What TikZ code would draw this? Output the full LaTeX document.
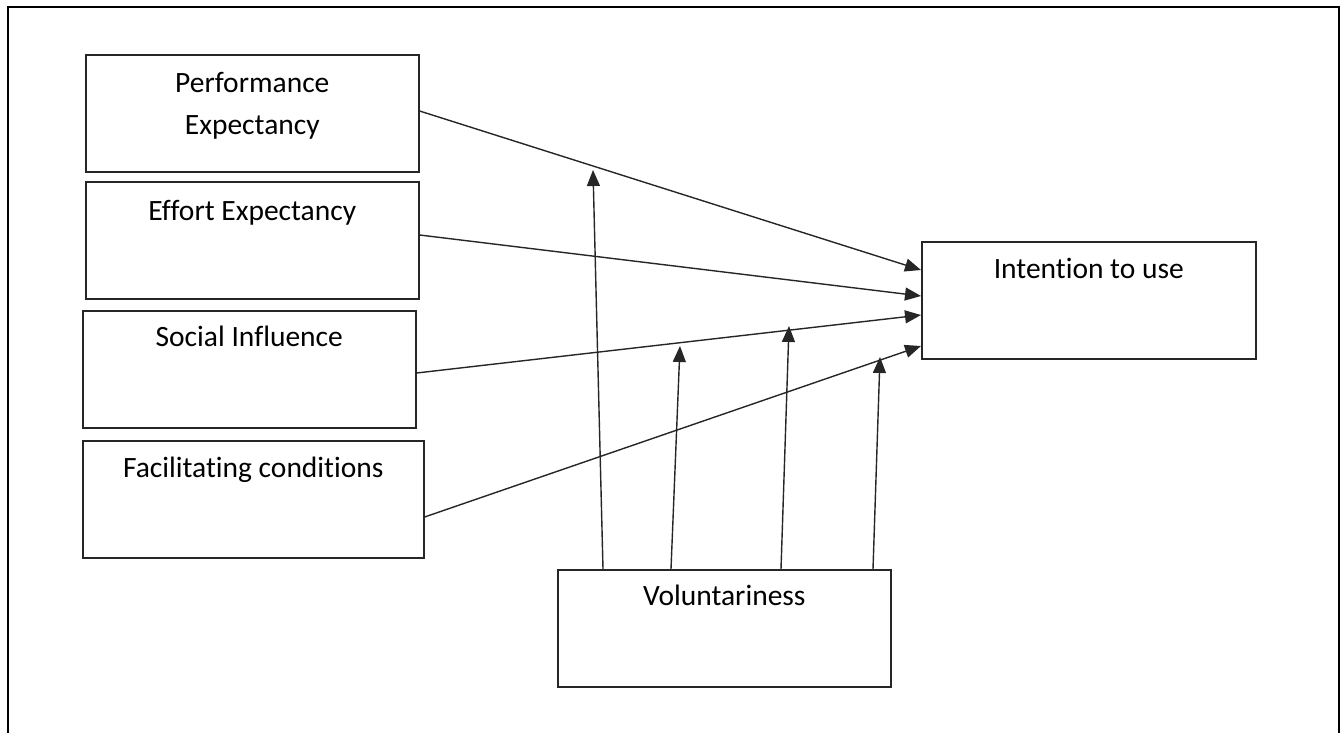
\documentclass[tikz,border=0pt]{standalone}
\usepackage{fontspec}
\setmainfont{Carlito}[Ligatures=NoCommon]
\usetikzlibrary{arrows.meta,calc}
\begin{document}
\begin{tikzpicture}[x=1pt,y=-1pt,
  box/.style={draw=black!85,line width=1.6pt,minimum width=#1,minimum height=117pt,inner sep=0pt,anchor=north west},
  lbl/.style={anchor=base,font=\fontsize{29.5}{35}\selectfont,text=black,inner sep=0pt},
  arr/.style={draw=black!85,line width=1.4pt,-{Triangle[length=16pt,width=13pt]}}]
\useasboundingbox (0,0) rectangle (1341,733);
\draw[line width=2.6pt] (8,733) -- (8,7) -- (1339,7) -- (1339,733);
% boxes
\node[box=333pt] (pe) at (85,54) {};
\node[box=333pt] (ee) at (85,181) {};
\node[box=333pt] (si) at (82,310) {};
\node[box=341pt] (fc) at (82,440) {};
\node[box=334pt] (int) at (921,241) {};
\node[box=333pt] (vol) at (557,569) {};
% labels
\node[lbl] (pet1) at ($(pe.north)+(0,39)$) {Performance};
\node[lbl] (pet2) at ($(pe.north)+(0,81)$) {Expectancy};
\node[lbl] (eet) at ($(ee.north)+(0,39)$) {Effort Expectancy};
\node[lbl] (sit) at ($(si.north)+(0,36)$) {Social Influence};
\node[lbl] (fct) at ($(fc.north)+(0,37)$) {Facilitating conditions};
\node[lbl] (intt) at ($(int.north)+(0,37)$) {Intention to use};
\node[lbl] (volt) at ($(vol.north)+(0,36)$) {Voluntariness};
% main arrows
\draw[arr] ($(pe.north east)+(0,57)$) -- ($(int.north west)+(0,29)$);
\draw[arr] ($(ee.north east)+(0,54)$) -- ($(int.north west)+(0,55)$);
\draw[arr] ($(si.north east)+(0,63)$) -- ($(int.north west)+(0,74)$);
\draw[arr] ($(fc.north east)+(0,77)$) -- ($(int.north west)+(0,105)$);
% moderator arrows
\coordinate (m1) at (593,170);
\coordinate (m2) at (680,346);
\coordinate (m3) at (789,326);
\coordinate (m4) at (880,357);
\draw[arr] ($(vol.north west)+(46,0)$) -- (m1);
\draw[arr] ($(vol.north west)+(114,0)$) -- (m2);
\draw[arr] ($(vol.north west)+(224,0)$) -- (m3);
\draw[arr] ($(vol.north west)+(316,0)$) -- (m4);
\end{tikzpicture}
\end{document}
